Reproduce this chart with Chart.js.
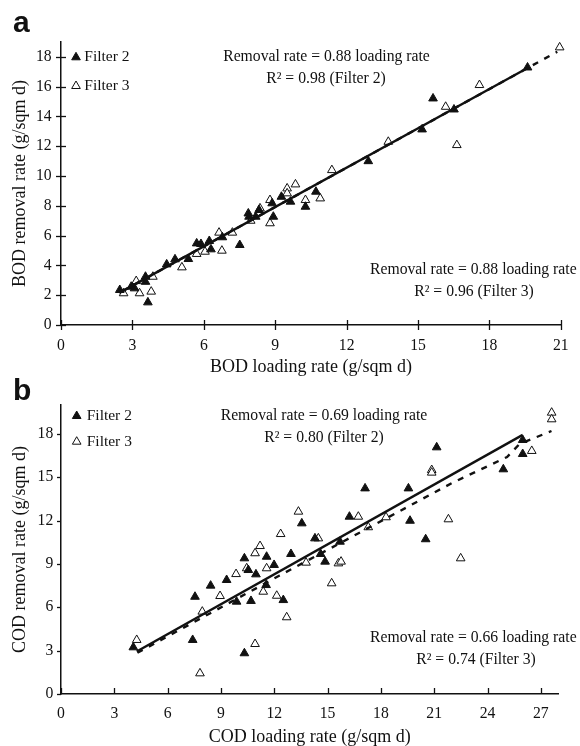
<!DOCTYPE html>
<html lang="en">
<head>
  <meta charset="utf-8" />
  <title>BOD / COD removal vs loading rate</title>
  <style>
html, body { margin: 0; padding: 0; background: #fff; }
#wrap { position: relative; width: 580px; height: 746px; }
#chartA { position: absolute; left: 0; top: 0; }
#chartB { position: absolute; left: 0; top: 376px; }
  </style>
</head>
<body>
  <div id="wrap">
    <canvas id="chartA" width="580" height="376"></canvas>
    <canvas id="chartB" width="580" height="370"></canvas>
  </div>
  <script src="https://cdn.jsdelivr.net/npm/chart.js"></script>
  <script>

// ---- panel a : BOD ----
const bodF2X = [2.47, 2.95, 3.09, 3.55, 3.55, 3.65, 4.44, 4.79, 5.35, 5.70, 5.88, 6.23, 6.30, 6.78, 7.51,
                7.87, 7.90, 8.18, 8.32, 8.92, 8.87, 9.26, 9.64, 10.71, 10.27, 12.91, 15.17, 15.63, 16.51, 19.60];
const bodF2Y = [2.35, 2.57, 2.46, 3.24, 2.90, 1.52, 4.07, 4.41, 4.43, 5.48, 5.44, 5.64, 5.08, 5.89, 5.37,
                7.49, 7.27, 7.27, 7.72, 7.27, 8.17, 8.61, 8.28, 8.95, 7.94, 11.00, 13.13, 15.21, 14.47, 17.29];
const bodF3X = [2.63, 3.16, 3.30, 3.79, 3.86, 5.08, 5.70, 6.05, 6.64, 6.76, 7.20, 7.97, 8.36, 8.78, 8.78,
                9.50, 9.50, 9.85, 10.27, 10.89, 11.38, 13.75, 16.16, 16.63, 17.58, 20.95];
const bodF3Y = [2.13, 2.95, 2.13, 2.24, 3.24, 3.87, 4.77, 4.92, 6.20, 4.99, 6.20, 7.00, 7.83, 6.83, 8.39,
                9.17, 8.84, 9.44, 8.39, 8.50, 10.40, 12.30, 14.65, 12.08, 16.11, 18.64];
const bodFit2X = [2.45, 19.6];
const bodFit2Y = [2.16, 17.25];
const bodFit3X = [2.6, 20.85];
const bodFit3Y = [2.29, 18.35];

// ---- panel b : COD ----
const codF2X = [4.07, 7.41, 7.54, 8.42, 9.32, 9.88, 10.32, 10.54, 10.32, 10.69, 10.97, 11.54, 11.57, 11.99, 12.51,
                12.94, 13.55, 14.29, 14.61, 14.86, 15.70, 16.23, 17.11, 19.55, 19.64, 20.52, 21.14, 24.89, 25.98, 25.98];
const codF2Y = [3.23, 3.74, 6.73, 7.50, 7.89, 6.39, 9.39, 8.58, 2.82, 6.44, 8.28, 7.54, 9.50, 8.93, 6.50,
                9.69, 11.81, 10.77, 9.69, 9.16, 10.54, 12.27, 14.23, 14.23, 11.99, 10.71, 17.07, 15.55, 17.58, 16.61];
const codF3X = [4.26, 7.82, 7.95, 8.95, 9.85, 10.45, 10.92, 10.92, 11.20, 11.38, 11.57, 12.14, 12.70, 12.36, 13.36,
                13.79, 14.48, 15.23, 15.61, 15.76, 16.73, 17.29, 18.29, 20.86, 20.86, 21.80, 22.49, 26.49, 27.61, 27.61];
const codF3Y = [3.74, 1.43, 5.70, 6.78, 8.30, 8.70, 3.46, 9.74, 10.24, 7.08, 8.70, 6.80, 5.31, 11.07, 12.62,
                9.09, 10.77, 7.66, 9.04, 9.16, 12.27, 11.54, 12.23, 15.50, 15.32, 12.09, 9.39, 16.82, 19.47, 19.01];
const codFit2X = [4.26, 25.98];
const codFit2Y = [2.94, 17.93];
const codFit3X = [4.3, 12.3, 16.4, 22.0, 25.1, 25.8, 27.6];
const codFit3Y = [2.85, 8.2, 10.9, 14.6, 16.4, 17.3, 18.2];

const SERIF = '"Liberation Serif", "Times New Roman", serif';
const INK = '#111';

function pts(xs, ys) {
  return xs.map((x, i) => ({x: x, y: ys[i]}));
}

function tri(ctx, x, y, r, filled) {
  ctx.beginPath();
  ctx.moveTo(x, y - r);
  ctx.lineTo(x + r * 0.866, y + r * 0.5);
  ctx.lineTo(x - r * 0.866, y + r * 0.5);
  ctx.closePath();
  ctx.fillStyle = filled ? INK : '#fff';
  ctx.fill();
  ctx.strokeStyle = INK;
  ctx.lineWidth = 1;
  ctx.stroke();
}

// tick marks, legend, panel letter and equations
const decor = {
  id: 'decor',
  afterDraw(chart, args, o) {
    const ctx = chart.ctx;
    const xs = chart.scales.x, ys = chart.scales.y;
    ctx.save();
    ctx.strokeStyle = INK;
    ctx.lineWidth = 1.3;
    xs.ticks.forEach(t => {
      const px = Math.round(xs.getPixelForValue(t.value)) + 0.5;
      ctx.beginPath();
      ctx.moveTo(px, xs.top - o.xIn);
      ctx.lineTo(px, xs.top + o.xOut);
      ctx.stroke();
    });
    ys.ticks.forEach(t => {
      const py = Math.round(ys.getPixelForValue(t.value)) + 0.5;
      ctx.beginPath();
      ctx.moveTo(ys.right - o.yOut, py);
      ctx.lineTo(ys.right + o.yIn, py);
      ctx.stroke();
    });

    ctx.fillStyle = INK;
    ctx.font = 'bold 30px "Liberation Sans", Arial, sans-serif';
    ctx.textAlign = 'left';
    ctx.textBaseline = 'alphabetic';
    ctx.fillText(o.letter, 13, o.letterY);

    ctx.textBaseline = 'middle';
    ctx.font = '15.5px ' + SERIF;
    o.legend.forEach(l => {
      tri(ctx, o.legX, l.y, 5, l.filled);
      ctx.fillStyle = INK;
      ctx.textAlign = 'left';
      ctx.fillText(l.text, o.legTextX, l.y);
    });

    ctx.font = '15.7px ' + SERIF;
    o.notes.forEach(n => {
      ctx.textAlign = n.align;
      ctx.fillText(n.text, n.x, n.y);
    });
    ctx.restore();
  }
};

function buildChart(id, p) {
  return new Chart(document.getElementById(id), {
    type: 'scatter',
    data: {
      datasets: [
        { label: 'fit 2', data: p.fit2, showLine: true, borderColor: INK, borderWidth: 2.4,
          pointRadius: 0, order: 0, clip: false },
        { label: 'fit 3', data: p.fit3, showLine: true, borderColor: INK, borderWidth: 2.4,
          borderDash: [6, 7], pointRadius: 0, order: 0, clip: false },
        { label: 'Filter 2', data: p.f2, pointStyle: 'triangle', pointRadius: 5,
          backgroundColor: INK, borderColor: INK, borderWidth: 1, order: 1, clip: false },
        { label: 'Filter 3', data: p.f3, pointStyle: 'triangle', pointRadius: 5,
          backgroundColor: '#fff', borderColor: INK, borderWidth: 1, order: 1, clip: false }
      ]
    },
    options: {
      responsive: false,
      animation: false,
      devicePixelRatio: 1,
      layout: { padding: { top: p.padTop, right: p.padRight, left: 0, bottom: 0 } },
      plugins: { legend: { display: false }, tooltip: { enabled: false }, decor: p.decor },
      scales: {
        x: {
          type: 'linear', min: 0, max: p.xMax,
          grid: { display: false, drawTicks: false, tickLength: 0 },
          border: { color: INK, width: 1.5 },
          ticks: { stepSize: 3, includeBounds: false, padding: p.xPad, color: INK, maxRotation: 0,
                   autoSkip: false, font: { family: SERIF, size: 15.7 } },
          title: { display: true, text: p.xTitle, color: INK, padding: { top: 0, bottom: -2 },
                   font: { family: SERIF, size: 18 } },
          afterFit: s => { s.height = p.xH; }
        },
        y: {
          type: 'linear', min: 0, max: p.yMax,
          grid: { display: false, drawTicks: false, tickLength: 0 },
          border: { color: INK, width: 1.5 },
          ticks: { stepSize: p.yStep, includeBounds: false, padding: p.yPad, color: INK,
                   font: { family: SERIF, size: 15.7 } },
          title: { display: true, text: p.yTitle, color: INK, padding: { top: 9, bottom: 0 },
                   font: { family: SERIF, size: 18 } },
          afterFit: s => { s.width = 61; }
        }
      }
    },
    plugins: [decor]
  });
}

buildChart('chartA', {
  f2: pts(bodF2X, bodF2Y), f3: pts(bodF3X, bodF3Y),
  fit2: pts(bodFit2X, bodFit2Y), fit3: pts(bodFit3X, bodFit3Y),
  xMax: 21, yMax: 19, yStep: 2,
  padTop: 42, padRight: 16, xH: 51, xPad: 11.3, yPad: 9.3,
  xTitle: 'BOD loading rate (g/sqm d)', yTitle: 'BOD removal rate (g/sqm d)',
  decor: {
    xIn: 5, xOut: 5, yIn: 5, yOut: 5,
    letter: 'a', letterY: 31.5,
    legX: 76, legTextX: 84.3,
    legend: [ { text: 'Filter 2', y: 57.3, filled: true }, { text: 'Filter 3', y: 86, filled: false } ],
    notes: [
      { text: 'Removal rate = 0.88 loading rate', x: 326.5, y: 56.7, align: 'center' },
      { text: 'R\u00b2 = 0.98 (Filter 2)', x: 326, y: 79, align: 'center' },
      { text: 'Removal rate = 0.88 loading rate', x: 370, y: 270, align: 'left' },
      { text: 'R\u00b2 = 0.96 (Filter 3)', x: 474, y: 291.7, align: 'center' }
    ]
  }
});

buildChart('chartB', {
  f2: pts(codF2X, codF2Y), f3: pts(codF3X, codF3Y),
  fit2: pts(codFit2X, codFit2Y), fit3: pts(codFit3X, codFit3Y),
  xMax: 28, yMax: 20, yStep: 3,
  padTop: 29, padRight: 21.4, xH: 52, xPad: 10, yPad: 7.7,
  xTitle: 'COD loading rate (g/sqm d)', yTitle: 'COD removal rate (g/sqm d)',
  decor: {
    xIn: 6, xOut: 0, yIn: 0, yOut: 4,
    letter: 'b', letterY: 24,
    legX: 76.7, legTextX: 86.7,
    legend: [ { text: 'Filter 2', y: 40, filled: true }, { text: 'Filter 3', y: 65.7, filled: false } ],
    notes: [
      { text: 'Removal rate = 0.69 loading rate', x: 324, y: 40, align: 'center' },
      { text: 'R\u00b2 = 0.80 (Filter 2)', x: 324, y: 62.3, align: 'center' },
      { text: 'Removal rate = 0.66 loading rate', x: 370, y: 262.3, align: 'left' },
      { text: 'R\u00b2 = 0.74 (Filter 3)', x: 476, y: 284, align: 'center' }
    ]
  }
});
  </script>
</body>
</html>
